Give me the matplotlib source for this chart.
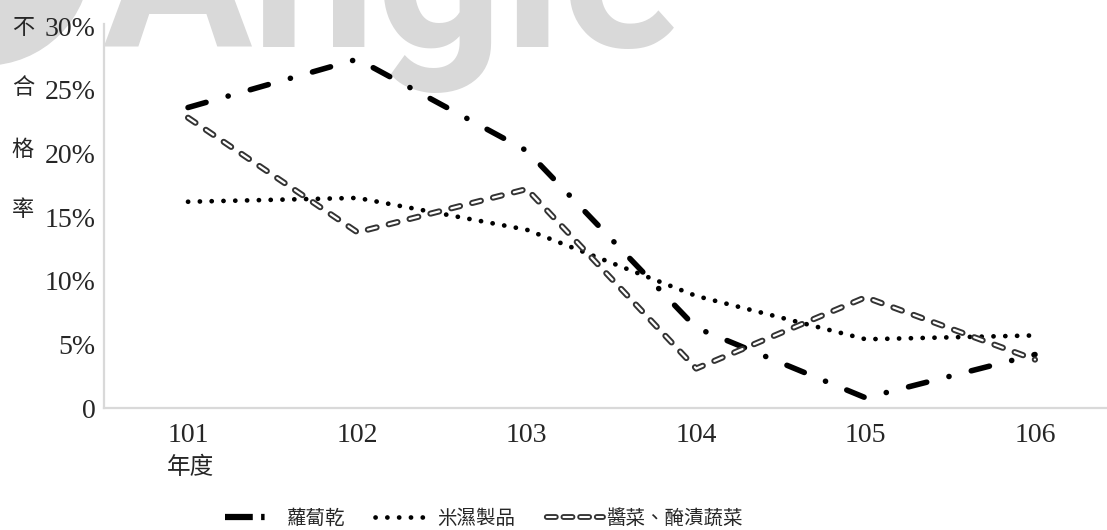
import matplotlib.pyplot as plt
from matplotlib.lines import Line2D
from matplotlib.legend_handler import HandlerTuple
from matplotlib.patches import Circle

years = ['101', '102', '103', '104', '105', '106']
radish = [23.6, 27.4, 20.2, 6.3, 0.8, 4.2]
rice = [16.2, 16.5, 14.0, 8.8, 5.4, 5.7]
pickles = [22.8, 13.8, 17.2, 3.1, 8.7, 3.8]
names = ['蘿蔔乾', '米濕製品', '醬菜、醃漬蔬菜']
yticks = [0, 5, 10, 15, 20, 25, 30]
ytick_labels = ['0', '5%', '10%', '15%', '20%', '25%', '30%']

plt.rcParams['lines.scale_dashes'] = False
num_font = 'Liberation Serif'
cjk_font = ['Noto Sans CJK TC', 'DejaVu Sans']
txt_color = '#262626'

W, H = 1107, 530
fig = plt.figure(figsize=(W / 100, H / 100), dpi=100)
ax = fig.add_axes([104 / W, (H - 408) / H, 1 - 104 / W, (408 - 24) / H])
ax.set_facecolor('none')

# grey watermark behind the plot
fig.text(102 / W, 1 - 47 / H, 'Angle', fontsize=160, fontweight='bold',
         family='Roboto', color='#d9d9d9', ha='left', va='baseline',
         zorder=-2)
fig.patches.append(Circle((-15, H + 40), 105, transform=None,
                          color='#d9d9d9', zorder=-2))

x = range(len(years))
dashdot = (0, (13.5, 16.5, 0.1, 16.5))
dots = (0, (0.1, 8.4))
hollow = (0, (6.5, 9.0))
ax.plot(x, radish, color='black', lw=4, dash_capstyle='round',
        linestyle=dashdot)
ax.plot(x, rice, color='black', lw=3.4, dash_capstyle='round',
        linestyle=dots)
ax.plot(x, pickles, color='#333333', lw=4.4, dash_capstyle='round',
        linestyle=hollow)
ax.plot(x, pickles, color='white', lw=1.6, dash_capstyle='round',
        linestyle=hollow)

ax.set_xlim(-0.496, 5.425)
ax.set_ylim(0, 30.16)
ax.set_xticks(list(x))
ax.set_xticklabels(years, family=num_font, fontsize=20, color=txt_color)
ax.set_yticks(yticks)
ax.set_yticklabels(ytick_labels, family=num_font, fontsize=20, color=txt_color)
ax.tick_params(axis='both', length=0)
ax.tick_params(axis='x', pad=11)
ax.tick_params(axis='y', pad=6)
for side in ['top', 'right']:
    ax.spines[side].set_visible(False)
for side in ['left', 'bottom']:
    ax.spines[side].set_color('#d9d9d9')
    ax.spines[side].set_linewidth(1.6)

# vertical axis title, one character per row
for i, ch in enumerate('不合格率'):
    fig.text(23 / W, 1 - (27 + i * 61) / H, ch, family=cjk_font,
             fontweight='light', fontsize=16, color=txt_color,
             ha='center', va='center')
fig.text(190 / W, 1 - 467 / H, '年度', family=cjk_font, fontweight='light',
         fontsize=17, color=txt_color, ha='center', va='center')

# legend keys with shorter dash patterns
h1 = Line2D([], [], color='black', lw=4.5, linestyle=(0, (20, 6, 2.5, 30)))
h2 = Line2D([], [], color='black', lw=3.4, dash_capstyle='round',
            linestyle=(0, (0.1, 8.4)))
h3a = Line2D([], [], color='#333333', lw=4.2, dash_capstyle='round',
             linestyle=(-2, (6.5, 5.5)))
h3b = Line2D([], [], color='white', lw=1.5, dash_capstyle='round',
             linestyle=(-2, (6.5, 5.5)))
leg = fig.legend([h1, h2, (h3a, h3b)], names, loc='center',
                 bbox_to_anchor=(484 / W, 1 - 518 / H), ncol=3,
                 frameon=False, handlelength=3.0, handletextpad=0.2,
                 columnspacing=1.5,
                 handler_map={tuple: HandlerTuple(ndivide=1)},
                 prop={'family': cjk_font, 'size': 14, 'weight': 'light'})
for t in leg.get_texts():
    t.set_color(txt_color)

fig.savefig('out.png', dpi=100)
